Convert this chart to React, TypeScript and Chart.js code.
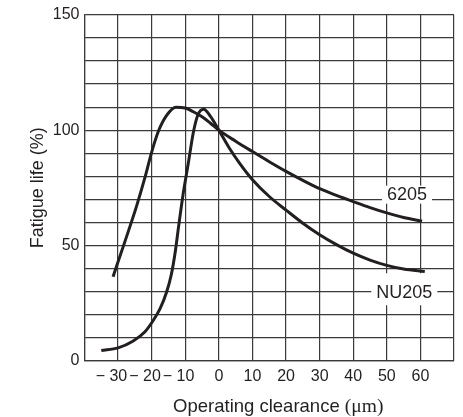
import React, { useEffect, useRef } from "react";
import { Chart, registerables } from "chart.js";

Chart.register(...registerables);

// ---- data ----
const x6205 = [-31.5, -28, -24.5, -22, -20, -18, -15.5, -12.8, -10, -7.6, -5, -2.5, 0, 5, 10, 15, 20, 25, 30, 35, 40, 45, 50, 55, 60.5];
const y6205 = [36.4, 51.5, 67, 79.5, 90.5, 99.5, 106.5, 110, 109.6, 108, 105.8, 103, 100, 95.2, 90.7, 86.3, 82.1, 78.2, 74.6, 71.7, 69, 66.4, 64.1, 62.1, 60.5];

const xNU205 = [-35, -30, -25.5, -22, -19.5, -17.5, -15.6, -14.2, -13, -12, -10.6, -9.1, -7.6, -6.2, -4.5, -2.5, 0, 3, 6.25, 10, 15, 20, 25, 30, 35, 40, 45, 50, 55, 61.3];
const yNU205 = [4.3, 5.5, 8.5, 12.5, 17.5, 22.5, 29.5, 37, 47, 58, 72.6, 85.6, 99, 106.8, 109.1, 106, 100, 92.5, 85.5, 78.5, 71.2, 65.3, 59.6, 54.6, 50.3, 46.6, 43.6, 41.3, 39.7, 38.6];

const xTickValues = [-40, -30, -20, -10, 0, 10, 20, 30, 40, 50, 60, 70];
const xTickLabels = ["", "\u2212 30   ", "\u2212 20   ", "\u2212 10   ", "0", "10", "20", "30", "40", "50", "60", ""];
const yTickValues = [0, 50, 100, 150];
const yTickLabels = ["0", "50", "100", "150"];

const curveNames = ["6205", "NU205"];
const curveNameX = [56, 55.2];
const curveNameY = [72, 29.2];

const xTitleSans = "Operating clearance ";
const xTitleSerif = "(\u03bcm)";
const yTitle = "Fatigue life (%)";

const INK = "#231f20";
const GRID = "#3a3a3a";
const SANS = '"Liberation Sans", Arial, Helvetica, sans-serif';

const toPoints = (xs: number[], ys: number[]) => xs.map((x, i) => ({ x, y: ys[i] }));

const namePlugin = {
  id: "curveNames",
  afterDatasetsDraw(chart: any) {
    const { ctx, scales } = chart;
    ctx.save();
    ctx.font = "18px " + SANS;
    ctx.textAlign = "center";
    ctx.textBaseline = "middle";
    const padTop = [9, 20];
    const padBottom = [9, 12];
    curveNames.forEach((name, i) => {
      const px = scales.x.getPixelForValue(curveNameX[i]);
      const py = scales.y.getPixelForValue(curveNameY[i]);
      const w = ctx.measureText(name).width + 10;
      ctx.fillStyle = "#ffffff";
      ctx.fillRect(px - w / 2, py - padTop[i], w, padTop[i] + padBottom[i]);
      ctx.fillStyle = INK;
      ctx.fillText(name, px, py);
    });
    ctx.restore();
  },
};

const xTitlePlugin = {
  id: "xTitle",
  afterDraw(chart: any) {
    const { ctx, chartArea } = chart;
    ctx.save();
    const sansFont = "18.5px " + SANS;
    const serifFont = '19.5px "Liberation Serif", "Times New Roman", serif';
    ctx.font = sansFont;
    const w1 = ctx.measureText(xTitleSans).width;
    ctx.font = serifFont;
    const w2 = ctx.measureText(xTitleSerif).width;
    const cx = (chartArea.left + chartArea.right) / 2 + 9;
    const x0 = cx - (w1 + w2) / 2;
    const y = chart.height - 10;
    ctx.textBaseline = "middle";
    ctx.textAlign = "left";
    ctx.fillStyle = INK;
    ctx.font = sansFont;
    ctx.fillText(xTitleSans, x0, y);
    ctx.font = serifFont;
    ctx.fillText(xTitleSerif, x0 + w1, y);
    ctx.restore();
  },
};

export default function App() {
  const ref = useRef<HTMLCanvasElement>(null);

  useEffect(() => {
    document.body.style.margin = "0";
    const canvas = ref.current;
    if (!canvas) return;
    const chart = new Chart(canvas, {
      type: "scatter",
      data: {
        datasets: [
          {
            label: "6205",
            data: toPoints(x6205, y6205),
            showLine: true,
            borderColor: INK,
            borderWidth: 3,
            pointRadius: 0,
            cubicInterpolationMode: "monotone",
            fill: false,
          },
          {
            label: "NU205",
            data: toPoints(xNU205, yNU205),
            showLine: true,
            borderColor: INK,
            borderWidth: 3,
            pointRadius: 0,
            cubicInterpolationMode: "monotone",
            fill: false,
          },
        ],
      },
      options: {
        animation: false,
        responsive: false,
        layout: { padding: { top: 15, right: 9, left: 0, bottom: 0 } },
        plugins: {
          legend: { display: false },
          tooltip: { enabled: false },
        },
        scales: {
          x: {
            type: "linear",
            min: -40,
            max: 70,
            afterBuildTicks: (s: any) => {
              s.ticks = xTickValues.map((v) => ({ value: v }));
            },
            afterFit: (s: any) => {
              s.height = 56.5;
            },
            ticks: {
              autoSkip: false,
              maxRotation: 0,
              padding: 6,
              color: INK,
              font: { size: 16, family: SANS },
              callback: (v: any) => {
                const i = xTickValues.indexOf(Number(v));
                return i >= 0 ? xTickLabels[i] : "";
              },
            },
            grid: { color: GRID, lineWidth: 1.2, drawTicks: false },
            border: { color: GRID, width: 1.2 },
          },
          y: {
            type: "linear",
            min: 0,
            max: 150,
            afterFit: (s: any) => {
              s.width = 84.5;
            },
            ticks: {
              stepSize: 10,
              autoSkip: false,
              padding: 5,
              color: INK,
              font: { size: 16, family: SANS },
              callback: (v: any) => {
                const i = yTickValues.indexOf(Number(v));
                return i >= 0 ? yTickLabels[i] : "";
              },
            },
            grid: { color: GRID, lineWidth: 1.2, drawTicks: false },
            border: { color: GRID, width: 1.2 },
            title: {
              display: true,
              text: yTitle,
              color: INK,
              font: { size: 18, family: SANS },
              padding: { top: 27.6, bottom: 0 },
            },
          },
        },
      },
      plugins: [namePlugin, xTitlePlugin],
    } as any);
    return () => chart.destroy();
  }, []);

  return (
    <div style={{ width: 463, height: 417 }}>
      <canvas ref={ref} width={463} height={417} style={{ display: "block" }} />
    </div>
  );
}
